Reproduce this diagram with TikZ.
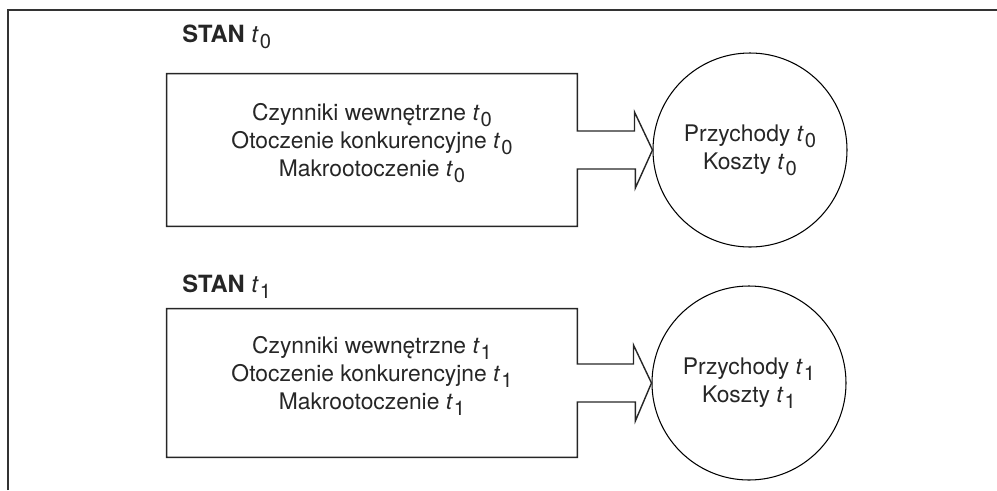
\documentclass[tikz,border=0pt]{standalone}
\usepackage{fontspec}
\setmainfont{TeX Gyre Heros}
\usetikzlibrary{calc}
\newcommand{\tsub}[1]{{\mdseries\textit{t}\kern0.5pt\raisebox{-0.5ex}{\fontsize{11.5}{11.5}\selectfont #1}}}

\begin{document}
\begin{tikzpicture}[
  boxline/.style={line width=0.8pt,draw=black!85,line join=miter},
  circline/.style={line width=0.6pt,draw=black},
  box/.style={minimum width=8.2cm,inner sep=0pt},
  txt/.style={align=center,inner sep=0pt,font=\fontsize{13}{16}\selectfont,text=black!85},
  circ/.style={circle,minimum size=3.88cm,inner sep=0pt,align=center,
    font=\fontsize{13}{16}\selectfont,text=black!85},
  stan/.style={anchor=base west,inner sep=0pt,font=\fontsize{13.5}{15}\selectfont\bfseries,text=black!85}]
\useasboundingbox (0,0) rectangle (19.94,9.8);
\draw[line width=0.6pt,black!80] (0.16,0) -- (0.16,9.6) -- (19.94,9.6); %frame
% state t0
\node[stan] (stan0) at (3.64,8.96) {STAN \tsub{0}};
\node[box,minimum height=3.04cm] (box0) at (7.44,6.8) {};
\node[txt] (czyn0) at ($(box0.center)+(0,0.14)$) {Czynniki wewnętrzne \tsub{0}\\Otoczenie konkurencyjne \tsub{0}\\Makrootoczenie \tsub{0}};
\node[circ,circline,draw] (circ0) at (15.0,6.8) {Przychody \tsub{0}\\Koszty \tsub{0}};
\draw[boxline] ($(box0.east)+(0,0.38)$) |- (box0.north west) -- (box0.south west)
  -| ($(box0.east)+(0,-0.38)$) -- ++(1.16,0) -- ++(0,-0.38) -- (circ0.west)
  -- ($(circ0.west)+(-0.36,0.76)$) -- ++(0,-0.38) -- cycle;
% state t1
\node[stan] (stan1) at (3.64,3.96) {STAN \tsub{1}};
\node[box,minimum height=2.96cm] (box1) at (7.44,2.14) {};
\node[txt] (czyn1) at ($(box1.center)+(0,0.14)$) {Czynniki wewnętrzne \tsub{1}\\Otoczenie konkurencyjne \tsub{1}\\Makrootoczenie \tsub{1}};
\node[circ,circline,draw] (circ1) at (14.98,2.14) {Przychody \tsub{1}\\Koszty \tsub{1}};
\draw[boxline] ($(box1.east)+(0,0.38)$) |- (box1.north west) -- (box1.south west)
  -| ($(box1.east)+(0,-0.38)$) -- ++(1.16,0) -- ++(0,-0.38) -- (circ1.west)
  -- ($(circ1.west)+(-0.36,0.76)$) -- ++(0,-0.38) -- cycle;
\end{tikzpicture}
\end{document}
